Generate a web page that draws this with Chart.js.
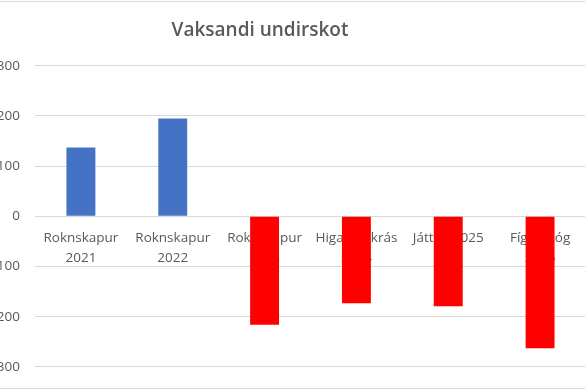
<!DOCTYPE html>
<html lang="fo">
<head>
  <meta charset="UTF-8">
  <title>Vaksandi undirskot</title>
  <style>
    *{
      margin: 0;
      padding: 0;
    }
    body{
      width: 585px;
      height: 390px;
      overflow: hidden;
      position: relative;
      background: white;
    }
    .frame{
      position: absolute;
      left: 0;
      top: 1px;
      width: 585px;
      height: 386px;
      border-top: 1px solid #d9d9d9;
      border-bottom: 1px solid #d9d9d9;
    }
    .chartBox{
      position: absolute;
      left: -66px;
      top: 0;
      width: 652px;
      height: 390px;
    }
  </style>
</head>
<body>
  <div class="frame"></div>
  <div class="chartBox">
    <canvas id="myChart"></canvas>
  </div>
  <script src="https://cdn.jsdelivr.net/npm/chart.js"></script>
  <script>
    const categories = [
      ['Roknskapur', '2021'],
      ['Roknskapur', '2022'],
      ['Roknskapur', '2023'],
      ['Higartil skrás', '2024'],
      'Játtan 2025',
      ['Fíggjarlóg', '2026']
    ];
    const values = [137, 195, -216, -173, -179, -263];
    const yTicks = [-300, -200, -100, 0, 100, 200, 300];

    const textGrey = '#595959';
    const blue = '#4472C4';
    const red = '#FF0000';

    const data = {
      labels: categories,
      datasets: [{
        label: 'Vaksandi undirskot',
        data: values,
        backgroundColor: ctx => ctx.raw >= 0 ? blue : red,
        categoryPercentage: 1,
        barPercentage: 0.315
      }]
    };

    const config = {
      type: 'bar',
      data,
      options: {
        responsive: true,
        maintainAspectRatio: false,
        animation: false,
        layout: {
          padding: { bottom: 21 }
        },
        plugins: {
          legend: { display: false },
          tooltip: { enabled: false },
          title: {
            display: true,
            text: 'Vaksandi undirskot',
            color: textGrey,
            font: { family: 'Open Sans', size: 19, weight: '600' },
            padding: { top: 19, bottom: 24 }
          }
        },
        scales: {
          x: {
            position: { y: 0 },
            grid: { display: false, drawTicks: false },
            border: { display: false },
            ticks: {
              color: textGrey,
              font: { family: 'Open Sans', size: 13.5, lineHeight: 1.45 },
              padding: 12,
              maxRotation: 0,
              autoSkip: false
            }
          },
          y: {
            min: yTicks[0],
            max: yTicks[yTicks.length - 1],
            afterFit: scale => { scale.width = 101; },
            afterBuildTicks: scale => {
              scale.ticks = yTicks.map(v => ({ value: v }));
            },
            grid: { color: '#d9d9d9', lineWidth: 1, drawTicks: false },
            border: { display: false },
            ticks: {
              color: textGrey,
              font: { family: 'Open Sans', size: 13.5 },
              padding: 15
            }
          }
        }
      }
    };

    const myChart = new Chart(document.getElementById('myChart'), config);
  </script>
</body>
</html>
